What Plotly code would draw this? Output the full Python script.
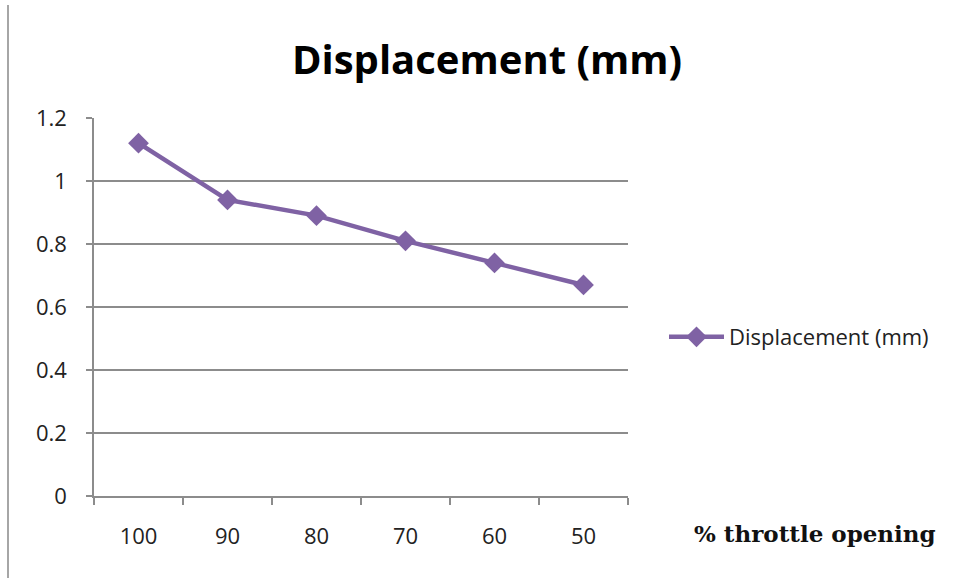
import plotly.graph_objects as go

categories = ["100", "90", "80", "70", "60", "50"]
displacement = [1.12, 0.94, 0.89, 0.81, 0.74, 0.67]
y_ticks = [0, 0.2, 0.4, 0.6, 0.8, 1, 1.2]
y_tick_labels = ["0", "0.2", "0.4", "0.6", "0.8", "1", "1.2"]
series_name = "Displacement (mm)"
title_text = "Displacement (mm)"
x_title = "% throttle opening"

W, H = 964, 583
L, R, T, B = 94, 336, 118, 87
pw = W - L - R
ph = H - T - B

color = "#7F62A4"
grid = "#8C8C8C"

fig = go.Figure()
fig.add_trace(go.Scatter(
    x=categories, y=displacement, name=series_name,
    mode="lines+markers",
    line=dict(color=color, width=4.5),
    marker=dict(symbol="diamond", size=16, color=color),
))

fig.update_layout(
    width=W, height=H,
    margin=dict(l=L, r=R, t=T, b=B),
    paper_bgcolor="white", plot_bgcolor="white",
    font=dict(family="Open Sans, sans-serif", size=22, color="#222222"),
    title=dict(text="<b>" + title_text + "</b>", x=(487) / W, xanchor="center",
               y=1 - 60 / H, yanchor="middle",
               font=dict(family="Open Sans, sans-serif", size=40, color="#000000")),
    showlegend=True,
    legend=dict(x=(664 - L) / pw, xanchor="left", y=1 - (337 - T) / ph, yanchor="middle",
                itemwidth=55,
                font=dict(size=22, color="#222222"), bgcolor="rgba(0,0,0,0)"),
    xaxis=dict(type="category", showgrid=False, showline=True, linecolor=grid, linewidth=1.5,
               ticks="outside", tickson="boundaries", ticklen=7, tickcolor=grid, tickwidth=1.5,
               ticklabelstandoff=20, range=[-0.5, 5.5], fixedrange=True,
               tickfont=dict(size=22)),
    yaxis=dict(range=[0, 1.2], tickvals=y_ticks, ticktext=y_tick_labels,
               showgrid=True, gridcolor=grid, gridwidth=1.5, zeroline=False,
               showline=True, linecolor=grid, linewidth=1.5,
               ticks="outside", ticklen=6, tickcolor=grid, tickwidth=1.5,
               ticklabelstandoff=15, tickfont=dict(size=22)),
    shapes=[dict(type="line", xref="paper", yref="paper",
                 x0=(8 - L) / pw, x1=(8 - L) / pw, y0=1 + (T - 5) / ph, y1=-(B - 5) / ph,
                 line=dict(color="#A6A6A6", width=2))],
    annotations=[dict(text="<b>" + x_title + "</b>", xref="paper", yref="paper",
                      x=(815 - L) / pw, y=-(533 - (T + ph)) / ph, xanchor="center", yanchor="middle",
                      showarrow=False,
                      font=dict(family="DejaVu Serif, serif", size=23, color="#111111"))],
)

fig.write_html("out.html")
